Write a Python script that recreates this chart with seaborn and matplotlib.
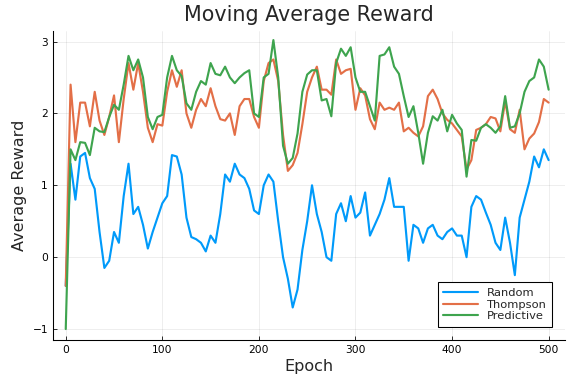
import numpy as np
import pandas as pd
import matplotlib
matplotlib.use("Agg")
import matplotlib.pyplot as plt
import seaborn as sns

sns.set_style("white")
plt.rcParams['font.family'] = ['DejaVu Sans']

epochs = list(range(0, 501, 5))

random_avg = [
    -0.4, 1.3, 0.8, 1.4, 1.45, 1.1, 0.95, 0.35, -0.15, -0.05,
    0.35, 0.2, 0.85, 1.3, 0.6, 0.7, 0.45, 0.12, 0.35, 0.55,
    0.75, 0.85, 1.42, 1.4, 1.15, 0.55, 0.28, 0.25, 0.2, 0.08,
    0.3, 0.2, 0.6, 1.15, 1.05, 1.3, 1.15, 1.1, 0.95, 0.65,
    0.6, 1.0, 1.15, 1.05, 0.5, 0.0, -0.3, -0.7, -0.45, 0.1,
    0.5, 1.0, 0.6, 0.35, 0.0, -0.05, 0.6, 0.75, 0.5, 0.85,
    0.55, 0.62, 0.9, 0.3, 0.45, 0.6, 0.8, 1.1, 0.7, 0.7,
    0.7, -0.05, 0.45, 0.4, 0.2, 0.4, 0.45, 0.3, 0.25, 0.35,
    0.4, 0.3, 0.3, 0.0, 0.7, 0.85, 0.8, 0.62, 0.45, 0.2,
    0.1, 0.55, 0.2, -0.25, 0.55, 0.8, 1.05, 1.4, 1.25, 1.5,
    1.35,
]

thompson_avg = [
    -0.4, 2.4, 1.6, 2.15, 2.15, 1.82, 2.3, 1.9, 1.7, 1.95,
    2.25, 1.6, 2.2, 2.7, 2.33, 2.7, 2.3, 1.8, 1.6, 1.85,
    1.83, 2.3, 2.6, 2.37, 2.6, 2.0, 1.8, 2.05, 2.2, 2.1,
    2.35, 2.1, 1.92, 1.9, 2.0, 1.7, 2.1, 2.2, 2.2, 1.95,
    1.8, 2.45, 2.7, 2.75, 2.45, 1.7, 1.2, 1.28, 1.45, 1.85,
    2.3, 2.5, 2.65, 2.33, 2.33, 2.26, 2.75, 2.55, 2.6, 2.62,
    2.05, 2.35, 2.25, 1.92, 1.78, 2.15, 2.05, 2.08, 2.05, 2.15,
    1.75, 1.8, 1.73, 1.68, 1.82, 2.24, 2.33, 2.2, 2.0, 1.91,
    1.86, 1.77, 1.68, 1.22, 1.35, 1.77, 1.8, 1.85, 1.95, 1.93,
    1.75, 2.17, 1.78, 1.73, 2.05, 1.5, 1.65, 1.72, 1.88, 2.2,
    2.15,
]

predictive_avg = [
    -1.0, 1.5, 1.35, 1.6, 1.59, 1.42, 1.8, 1.75, 1.74, 1.95,
    2.12, 2.05, 2.4, 2.8, 2.6, 2.75, 2.5, 1.95, 1.78, 1.95,
    1.98, 2.5, 2.8, 2.6, 2.52, 2.14, 2.05, 2.3, 2.45, 2.4,
    2.7, 2.55, 2.53, 2.65, 2.5, 2.42, 2.5, 2.56, 2.6, 2.0,
    1.95, 2.5, 2.55, 3.02, 2.5, 1.55, 1.3, 1.38, 1.72, 2.3,
    2.54, 2.6, 2.6, 2.18, 2.2, 1.96, 2.7, 2.9, 2.8, 2.92,
    2.5, 2.3, 2.3, 2.1, 1.9, 2.8, 2.82, 2.92, 2.65, 2.55,
    2.24, 1.95, 2.1, 1.73, 1.3, 1.73, 1.96, 1.9, 2.05, 1.75,
    1.98, 1.86, 1.77, 1.12, 1.63, 1.62, 1.8, 1.85, 1.8, 1.73,
    1.82, 2.24, 1.8, 1.82, 2.0, 2.3, 2.45, 2.5, 2.75, 2.65,
    2.33,
]

series_names = ['Random', 'Thompson', 'Predictive']
colors = ['#009AFA', '#E36F47', '#3EA44E']

df = pd.DataFrame({
    'Epoch': epochs * 3,
    'Average Reward': random_avg + thompson_avg + predictive_avg,
    'Strategy': np.repeat(series_names, len(epochs)),
})

fig = plt.figure(figsize=(6, 4), dpi=96)
ax = fig.add_axes([0.0915, 0.115, 0.8895, 0.805])

sns.lineplot(data=df, x='Epoch', y='Average Reward', hue='Strategy',
             palette=colors, linewidth=1.6, ax=ax)

ax.set_xlim(-13.5, 517)
ax.set_ylim(-1.15, 3.15)
ax.set_xticks([0, 100, 200, 300, 400, 500])
ax.set_yticks([-1, 0, 1, 2, 3])
ax.grid(True, color='#000000', alpha=0.1, linewidth=0.5)

for side in ['top', 'right']:
    ax.spines[side].set_visible(False)
for side in ['left', 'bottom']:
    ax.spines[side].set_color('black')
    ax.spines[side].set_linewidth(0.8)

ax.tick_params(axis='both', direction='in', length=3, width=0.6,
               labelsize=8, colors='black', left=True, bottom=True)

ax.set_xlabel('Epoch', fontsize=12, labelpad=3)
ax.set_ylabel('Average Reward', fontsize=12, labelpad=4)
ax.set_title('Moving Average Reward', fontsize=15.5, pad=7)

leg = ax.legend(loc='lower right', fontsize=8.6, frameon=True, fancybox=False,
                framealpha=1, edgecolor='black', borderaxespad=1.1,
                handlelength=3.0, labelspacing=0.15, borderpad=0.5)
leg.get_frame().set_linewidth(0.8)

fig.savefig('out.png', dpi=96)
